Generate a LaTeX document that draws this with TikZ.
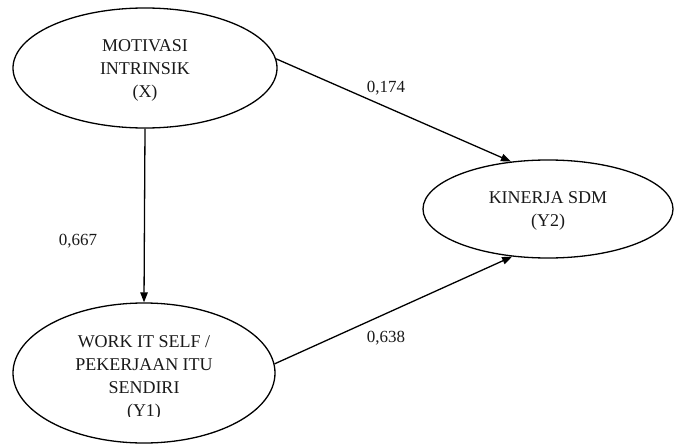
\documentclass[tikz,border=0pt]{standalone}
\usepackage{fontspec}
\setmainfont{Liberation Serif}
\usetikzlibrary{arrows.meta,shapes.geometric}
\begin{document}
\begin{tikzpicture}[x=1pt,y=-1pt,
  ell/.style={draw, ellipse, line width=1.3pt, inner sep=0pt},
  txt/.style={align=center, font=\fontsize{18}{23}\selectfont, text=black!90},
  lbl/.style={font=\fontsize{17}{20}\selectfont, text=black!90},
  conn/.style={line width=1.3pt, -{Triangle[length=10pt,width=7.5pt]}}]
\useasboundingbox (0,0) rectangle (674,444);
\node[ell, minimum width=264pt, minimum height=120pt] (x) at (145,68) {};
\node[txt] (xt) at (145,70) {MOTIVASI\\INTRINSIK\\(X)};
\node[ell, minimum width=262pt, minimum height=140pt] (y1) at (144,373) {};
\begin{scope}
\clip (0,0) rectangle (674,416);
\node[txt] (y1t) at (144,378) {WORK IT SELF /\\PEKERJAAN ITU\\SENDIRI\\(Y1)};
\end{scope}
\node[ell, minimum width=250pt, minimum height=98pt] (y2) at (548,209) {};
\node[txt] (y2t) at (548,211) {KINERJA SDM\\(Y2)};
\draw[conn] (x.south) -- (y1.north);
\draw[conn] (x.4) -- (y2.128);
\draw[conn] (y1.4) -- (y2.233);
\node[lbl] (l1) at (78,241) {0,667};
\node[lbl] (l2) at (386,88) {0,174};
\node[lbl] (l3) at (386,338) {0,638};
\end{tikzpicture}
\end{document}
